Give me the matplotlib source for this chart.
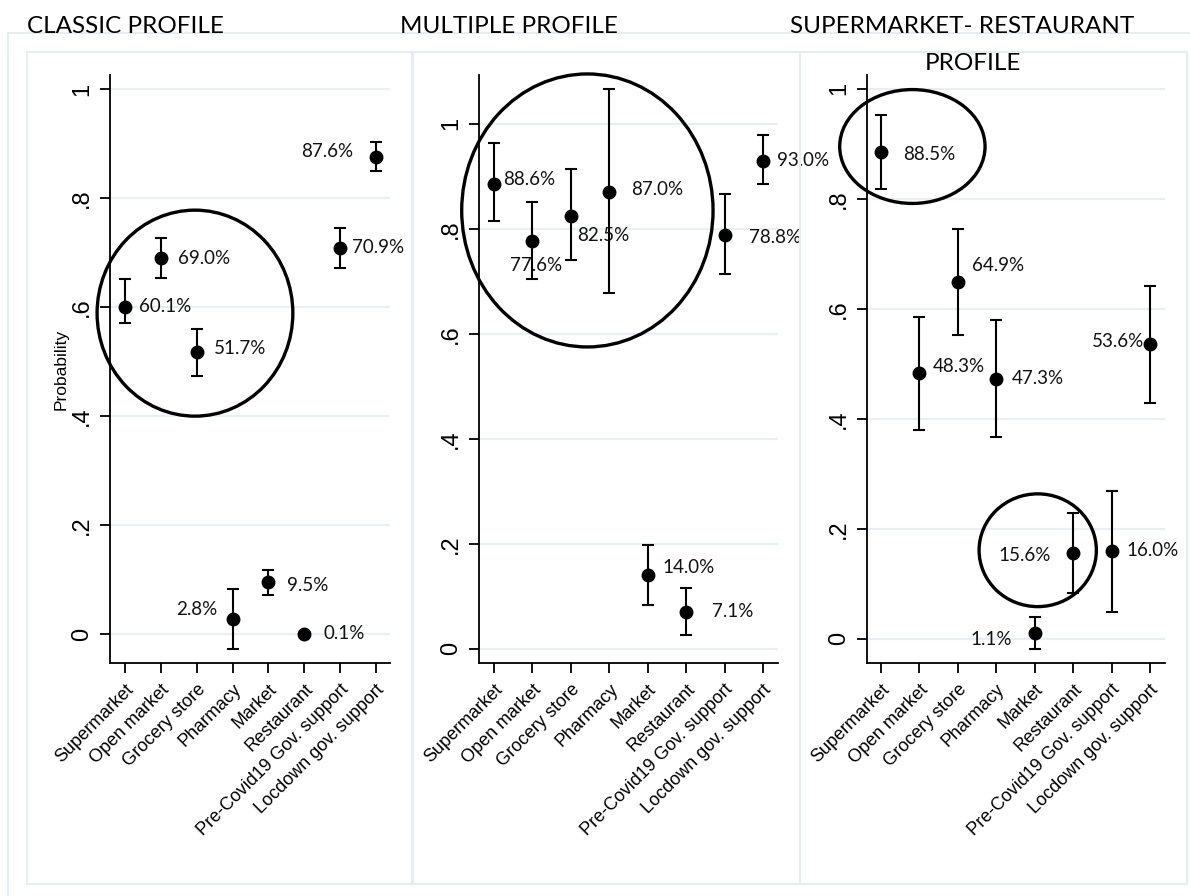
import matplotlib.pyplot as plt
from matplotlib.patches import Ellipse, Rectangle
from matplotlib.lines import Line2D

categories = ["Supermarket", "Open market", "Grocery store", "Pharmacy", "Market",
              "Restaurant", "Pre-Covid19 Gov. support", "Locdown gov. support"]
positions = [1, 2, 3, 4, 5, 6, 7, 8]

ytick_vals = [0, 0.2, 0.4, 0.6, 0.8, 1.0]
ytick_text = ["0", ".2", ".4", ".6", ".8", "1"]

# classic profile
classic_p = [0.601, 0.690, 0.517, 0.028, 0.095, 0.001, 0.709, 0.876]
classic_lo = [0.571, 0.653, 0.474, -0.028, 0.072, 0.000, 0.672, 0.850]
classic_hi = [0.651, 0.727, 0.560, 0.083, 0.117, 0.002, 0.745, 0.903]

# multiple profile
multiple_p = [0.886, 0.776, 0.825, 0.870, 0.140, 0.071, 0.788, 0.930]
multiple_lo = [0.814, 0.704, 0.740, 0.678, 0.084, 0.027, 0.714, 0.886]
multiple_hi = [0.964, 0.852, 0.914, 1.067, 0.198, 0.116, 0.867, 0.979]

# supermarket-restaurant profile
supres_p = [0.885, 0.483, 0.649, 0.473, 0.011, 0.156, 0.160, 0.536]
supres_lo = [0.818, 0.380, 0.553, 0.367, -0.018, 0.084, 0.049, 0.429]
supres_hi = [0.953, 0.585, 0.745, 0.580, 0.040, 0.229, 0.269, 0.642]

# label placement (pixel offsets, alignment) per point
classic_lab = [(14, 0, 'left'), (17, 0, 'left'), (17, 4, 'left'), (-15, 9, 'right'),
               (19, -3, 'left'), (19, 0, 'left'), (12, 0, 'left'), (-23, 5, 'right')]
multiple_lab = [(9, 4, 'left'), (4, -24, 'center'), (6, -20, 'left'), (22, 3, 'left'),
                (15, 8, 'left'), (26, 0, 'left'), (24, -2, 'left'), (14, 0, 'left')]
supres_lab = [(22, -2, 'left'), (13, 7, 'left'), (14, 16, 'left'), (16, 0, 'left'),
              (-23, -7, 'right'), (-22, -3, 'right'), (15, 0, 'left'), (-6, 2, 'right')]

W, H = 1190, 896
fig = plt.figure(figsize=(11.9, 8.96), dpi=100)
box_col = '#e6edf1'


def px_rect(x0, y0, x1, y1):
    return [x0 / W, 1 - y1 / H, (x1 - x0) / W, (y1 - y0) / H]


# outer frame lines and panel boxes
fig.add_artist(Line2D([8 / W, 8 / W, 1.0], [0.0, 1 - 33 / H, 1 - 33 / H],
                      transform=fig.transFigure, color=box_col, lw=1.5))
for bx in [(27, 52, 412, 884), (413, 52, 800, 884), (800, 52, 1187, 884)]:
    r = px_rect(*bx)
    fig.add_artist(Rectangle((r[0], r[1]), r[2], r[3], transform=fig.transFigure,
                             fill=False, edgecolor=box_col, lw=1.5))

panels = [
    (px_rect(110, 75, 390, 663), classic_p, classic_lo, classic_hi, classic_lab,
     (0.58, 8.39), (-0.053, 1.026)),
    (px_rect(479, 75, 778, 663), multiple_p, multiple_lo, multiple_hi, multiple_lab,
     (0.61, 8.39), (-0.027, 1.093)),
    (px_rect(867, 75, 1165, 663), supres_p, supres_lo, supres_hi, supres_lab,
     (0.64, 8.39), (-0.044, 1.025)),
]

axes = []
for rect, p, lo, hi, lab, xl, yl in panels:
    ax = fig.add_axes(rect)
    err = [[v - l for v, l in zip(p, lo)], [h - v for v, h in zip(p, hi)]]
    ax.errorbar(positions, p, yerr=err, fmt='o', color='black', ms=9,
                elinewidth=1.5, capsize=4, capthick=1.5, zorder=3)
    for x, v, (dx, dy, ha) in zip(positions, p, lab):
        ax.annotate(f"{v * 100:.1f}%", (x, v), xytext=(dx, dy),
                    textcoords='offset pixels', ha=ha, va='center',
                    fontsize=13.5, family='Lato', color='#111111')
    ax.set_xlim(*xl)
    ax.set_ylim(*yl)
    ax.set_yticks(ytick_vals)
    ax.set_yticklabels(ytick_text, fontsize=17, family='Liberation Sans',
                       rotation=90, va='center')
    ax.set_xticks(positions)
    ax.set_xticklabels(categories, fontsize=13, family='Liberation Sans',
                       rotation=45, ha='right', rotation_mode='anchor')
    ax.tick_params(axis='both', length=7, width=1.3, color='black')
    ax.tick_params(axis='y', pad=5)
    ax.tick_params(axis='x', pad=6)
    ax.yaxis.grid(True, color='#e9eff2', lw=1.6)
    ax.set_axisbelow(True)
    for s in ['top', 'right']:
        ax.spines[s].set_visible(False)
    for s in ['left', 'bottom']:
        ax.spines[s].set_linewidth(1.3)
    axes.append(ax)

axes[0].set_ylabel("Probability", fontsize=12.5, family='Liberation Sans', labelpad=2)

# highlight circles (data coords: centre x, centre y, width, height)
highlights = [
    (0, 2.95, 0.589, 5.46, 0.378),
    (1, 3.43, 0.835, 6.54, 0.520),
    (2, 1.82, 0.895, 3.78, 0.207),
    (2, 5.08, 0.161, 3.05, 0.205),
]
for i, cx, cy, w, h in highlights:
    axes[i].add_patch(Ellipse((cx, cy), w, h, fill=False, edgecolor='black',
                              lw=2.4, clip_on=False, zorder=4))

# panel titles
title_kw = dict(fontsize=17.5, family='Lato', color='black', va='baseline')
fig.text(27 / W, 1 - 33 / H, "CLASSIC PROFILE", ha='left', **title_kw)
fig.text(400 / W, 1 - 33 / H, "MULTIPLE PROFILE", ha='left', **title_kw)
fig.text(962 / W, 1 - 33 / H, "SUPERMARKET- RESTAURANT", ha='center', **title_kw)
fig.text(973 / W, 1 - 70 / H, "PROFILE", ha='center', **title_kw)

fig.savefig("out.png", dpi=100, facecolor='white')
